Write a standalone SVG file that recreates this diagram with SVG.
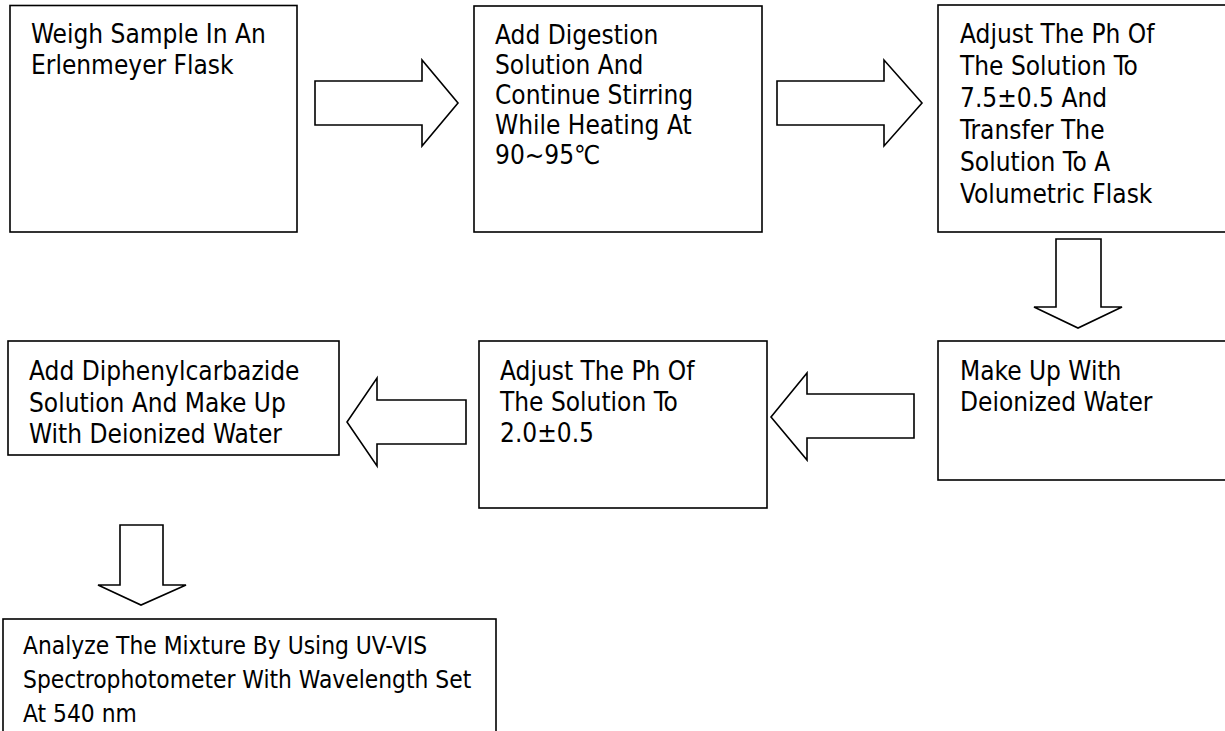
<svg xmlns="http://www.w3.org/2000/svg" width="1225" height="731" viewBox="0 0 1225 731">
<style>
.box{fill:#fff;stroke:#000;stroke-width:1.6}
.arr{fill:#fff;stroke:#000;stroke-width:1.6;stroke-linejoin:miter}
text{font-family:"DejaVu Sans Condensed","DejaVu Sans",sans-serif;font-size:26px;fill:#000}
.sm{font-size:24.3px}
</style>
<rect width="1225" height="731" fill="#fff"/>
<g id="connectors">
<polygon class="arr" points="315,81 422,81 422,60 458,103 422,146 422,125 315,125"/>
<polygon class="arr" points="777,81 884,81 884,60 922,103 884,146 884,125 777,125"/>
<polygon class="arr" points="1056,239 1101,239 1101,307 1122,307 1078,328 1034,307 1056,307"/>
<polygon class="arr" points="914,394 807,394 807,373 771,417 807,460 807,438 914,438"/>
<polygon class="arr" points="466,400 377,400 377,378 347,422 377,466 377,444 466,444"/>
<polygon class="arr" points="120,525 163,525 163,585 186,585 141,605 98,585 120,585"/>
</g>
<g id="n1">
<rect class="box" x="10" y="5.5" width="287" height="226.5"/>
<text x="31" y="43">Weigh Sample In An</text>
<text x="31" y="74">Erlenmeyer Flask</text>
</g>
<g id="n2">
<rect class="box" x="474" y="6" width="288" height="226"/>
<text x="495" y="44"><tspan x="495">Add Digestion</tspan><tspan x="495" dy="30">Solution And</tspan><tspan x="495" dy="30">Continue Stirring</tspan><tspan x="495" dy="30">While Heating At</tspan><tspan x="495" dy="30">90~95℃</tspan></text>
</g>
<g id="n3">
<rect class="box" x="938" y="5" width="300" height="227"/>
<text x="960" y="43"><tspan x="960">Adjust The Ph Of</tspan><tspan x="960" dy="32">The Solution To</tspan><tspan x="960" dy="32">7.5±0.5 And</tspan><tspan x="960" dy="32">Transfer The</tspan><tspan x="960" dy="32">Solution To A</tspan><tspan x="960" dy="32">Volumetric Flask</tspan></text>
</g>
<g id="n4">
<rect class="box" x="938" y="341" width="300" height="139"/>
<text x="960" y="380"><tspan x="960">Make Up With</tspan><tspan x="960" dy="31">Deionized Water</tspan></text>
</g>
<g id="n5">
<rect class="box" x="479" y="341" width="288" height="167"/>
<text x="500" y="380"><tspan x="500">Adjust The Ph Of</tspan><tspan x="500" dy="31">The Solution To</tspan><tspan x="500" dy="31">2.0±0.5</tspan></text>
</g>
<g id="n6">
<rect class="box" x="8" y="341" width="331" height="114"/>
<text x="29" y="380"><tspan x="29">Add Diphenylcarbazide</tspan><tspan x="29" dy="31.5">Solution And Make Up</tspan><tspan x="29" dy="31.5">With Deionized Water</tspan></text>
</g>
<g id="n7">
<rect class="box" x="3" y="619" width="493" height="130"/>
<text class="sm" x="23" y="654"><tspan x="23">Analyze The Mixture By Using UV-VIS</tspan><tspan x="23" dy="34">Spectrophotometer With Wavelength Set</tspan><tspan x="23" dy="34">At 540 nm</tspan></text>
</g>
</svg>
